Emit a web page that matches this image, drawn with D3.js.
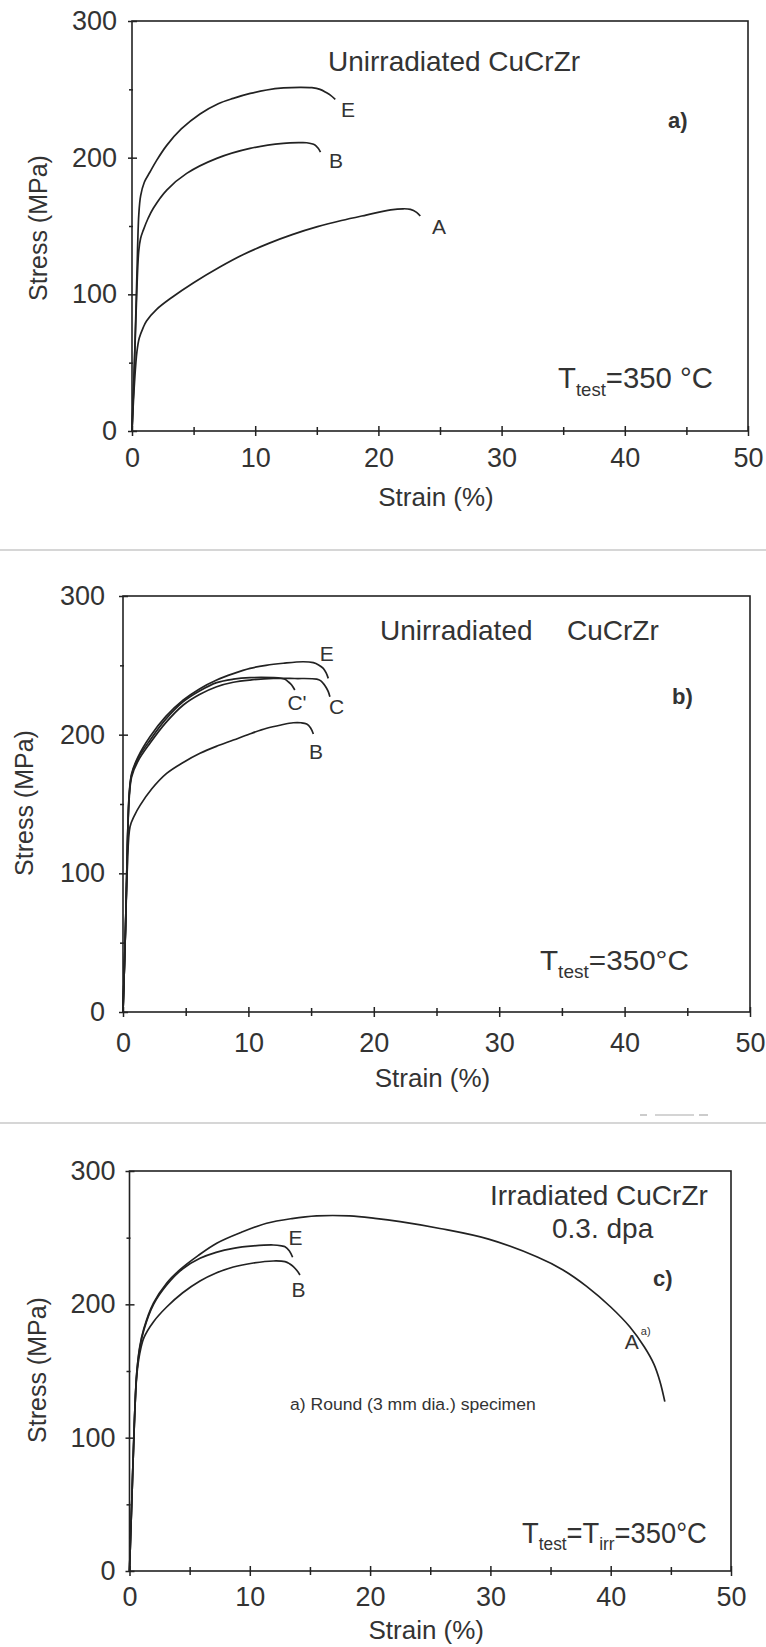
<!DOCTYPE html>
<html>
<head>
<meta charset="utf-8">
<script src="https://cdn.jsdelivr.net/npm/d3@7"></script>
<style>
  html, body { margin: 0; padding: 0; background: #fff; }
  svg { display: block; }
  text { font-family: "Liberation Sans", Arial, sans-serif; fill: #333; }
</style>
</head>
<body>
<svg id="fig" width="766" height="1647"></svg>
<script>
// ---- axis ticks ----
const xMajorTicks = [0, 10, 20, 30, 40, 50];
const xMinorTicks = [5, 15, 25, 35, 45];
const yMajorTicks = [0, 100, 200, 300];
const yMinorTicks = [50, 150, 250];

// ---- stress–strain curves: [strain %, stress MPa] ----
// a) unirradiated CuCrZr, 350 °C
const aE = [[0,0],[0.2,50],[0.4,115],[0.55,158],[0.7,172],[1.0,182],[1.46,189.5],[2.0,198],[2.82,209],[4.0,221],[5.52,232],[7.0,239.5],[8.22,243.4],[9.6,247],[10.93,249.5],[12.3,251],[13.64,251.5],[14.6,251.2],[15.26,250],[15.8,247.5],[16.1,245.8],[16.5,242.7]];
const aB = [[0,0],[0.2,50],[0.4,105],[0.55,132],[0.7,141],[0.92,147],[1.3,155.5],[1.73,163],[2.82,176.3],[4.44,188.5],[6.88,199.5],[9.58,206.8],[12.28,210.5],[13.6,211],[14.18,210.9],[14.85,209.3],[15.1,207],[15.3,204]];
const aA = [[0,0],[0.2,35],[0.4,58],[0.59,68],[0.9,75.5],[1.18,80.5],[2.0,89],[3.2,97.5],[5,108.5],[7.13,120],[9,129],[11.1,137.3],[13,143.7],[15.06,149.5],[17,154],[19,158],[21,161.8],[22,162.6],[22.6,162.2],[23.1,160],[23.4,157.3]];

// b) unirradiated CuCrZr, 350 °C
const bE  = [[0,0],[0.2,60],[0.35,120],[0.5,158],[0.69,172],[1.2,184],[2.15,198.5],[3.4,213],[4.81,225],[6.1,233],[7.47,239.4],[8.8,244],[10.13,247.8],[11.4,250],[12.78,251.5],[14.38,252.6],[15.18,251.9],[15.6,250.3],[15.97,247.8],[16.2,244.5],[16.37,240.6]];
const bC  = [[0,0],[0.2,60],[0.35,120],[0.5,155],[0.69,169.7],[1.2,181],[2.15,193.8],[3.4,208.5],[4.81,221.4],[6.1,229],[7.47,234.6],[8.8,237.8],[10.13,239.4],[11.99,240.6],[13.7,240.5],[15.45,240.1],[15.75,239],[15.97,237],[16.2,234],[16.37,231],[16.5,227.4]];
const bCp = [[0,0],[0.2,60],[0.35,120],[0.5,157],[0.69,171],[1.2,183],[2.15,196],[3.4,211],[4.81,223.8],[6.1,231.5],[7.47,237.5],[8.8,240],[10.13,241.1],[11.99,241.1],[12.6,240.7],[12.92,239.9],[13.2,238],[13.45,235.8],[13.7,232.2]];
const bB  = [[0,0],[0.2,60],[0.35,105],[0.56,133.6],[0.9,141.5],[1.36,149],[2.3,161],[3.48,172.1],[4.8,180],[6.14,186.6],[7.5,191.8],[8.8,196.1],[10.1,200.5],[11.46,204.6],[12.6,207],[13.58,208.6],[14.2,208.6],[14.65,207.7],[14.95,205],[15.18,200.5]];

// c) irradiated CuCrZr, 0.3 dpa, Ttest = Tirr = 350 °C
const cA = [[0,0],[0.2,55],[0.4,110],[0.6,148],[0.85,168],[1.2,182],[2,201],[3.1,216],[4.2,226],[5.7,236.5],[7.25,245.8],[9.3,254],[11.4,260.8],[13.5,264.3],[15.56,266.3],[18.3,266.3],[20.4,264.5],[22.5,262],[25.8,256.9],[29.85,248.9],[33.9,235.5],[36,226],[38,213.5],[40,198],[41.6,183],[42.8,168],[43.6,155],[44.1,142],[44.5,127]];
const cE = [[0,0],[0.2,55],[0.4,110],[0.6,148],[0.85,167],[1.2,181],[2,200],[3.09,214.5],[4.4,226.5],[5.86,234.5],[7.2,239],[8.63,242],[10.3,243.8],[11.95,244.5],[12.65,243.8],[12.93,243.2],[13.28,240.2],[13.56,235.3]];
const cB = [[0,0],[0.2,55],[0.4,110],[0.6,146],[0.85,163],[1.2,175],[2,187],[3.09,198],[4.4,208.5],[5.86,217.5],[7.2,223.5],[8.63,228],[10.3,231],[11.95,232.5],[12.93,232],[13.3,230.5],[13.62,228.3],[13.9,225.5],[14.17,222]];

// ---- panel layout ----
const panels = [
  { left: 132, right: 748, bottom: 431, top: 21, xPad: 12, yPad: 11, titleX: 38, stressTitleY: 228, strainY: 497,
    curves: [ {data: aE, name: "E", dx: 12.7, dy: 9.7}, {data: aB, name: "B", dx: 15.5, dy: 7.8}, {data: aA, name: "A", dx: 18.7, dy: 10} ] },
  { left: 123, right: 750, bottom: 1012, top: 596, xPad: 16, yPad: 14, titleX: 24, stressTitleY: 803, strainY: 1078,
    curves: [ {data: bE, name: "E", dx: -1.6, dy: -25.4}, {data: bC, name: "C", dx: 6.8, dy: 9.8}, {data: bCp, name: "C'", dx: 2.2, dy: 12}, {data: bB, name: "B", dx: 2.6, dy: 17.7} ] },
  { left: 129.5, right: 731, bottom: 1571, top: 1171, xPad: 11, yPad: 10, titleX: 37, stressTitleY: 1370, strainY: 1630,
    curves: [ {data: cA, name: "A", dx: -33, dy: -60, sup: "a)"}, {data: cE, name: "E", dx: 2.9, dy: -19.8}, {data: cB, name: "B", dx: -1.5, dy: 14} ] }
];

const svg = d3.select("#fig");
const ink = "#222";

// page separators left over from the printed figure
svg.append("line").attr("x1", 0).attr("x2", 766).attr("y1", 550).attr("y2", 550)
  .attr("stroke", "#d6d6d6").attr("stroke-width", 2);
svg.append("line").attr("x1", 0).attr("x2", 766).attr("y1", 1123).attr("y2", 1123)
  .attr("stroke", "#d6d6d6").attr("stroke-width", 2);
[[640, 647], [655, 694], [699, 708]].forEach(([a, b]) =>
  svg.append("line").attr("x1", a).attr("x2", b).attr("y1", 1115).attr("y2", 1115)
    .attr("stroke", "#aaa").attr("stroke-width", 1.2));

panels.forEach(p => {
  const x = d3.scaleLinear().domain([0, 50]).range([p.left, p.right]);
  const y = d3.scaleLinear().domain([0, 300]).range([p.bottom, p.top]);
  const g = svg.append("g");

  // frame
  g.append("rect").attr("x", p.left).attr("y", p.top)
    .attr("width", p.right - p.left).attr("height", p.bottom - p.top)
    .attr("fill", "none").attr("stroke", ink).attr("stroke-width", 1.6);

  // bottom axis: major ticks with labels, minor ticks without
  const xAx = g.append("g").attr("transform", `translate(0,${p.bottom})`)
    .call(d3.axisBottom(x).tickValues(xMajorTicks).tickSizeInner(5).tickSizeOuter(0).tickPadding(p.xPad));
  const xMin = g.append("g").attr("transform", `translate(0,${p.bottom})`)
    .call(d3.axisBottom(x).tickValues(xMinorTicks).tickSizeInner(4).tickSizeOuter(0).tickFormat(""));
  xAx.selectAll(".tick line").attr("y1", -5);
  xMin.selectAll(".tick line").attr("y1", -4);

  // left axis
  const yAx = g.append("g").attr("transform", `translate(${p.left},0)`)
    .call(d3.axisLeft(y).tickValues(yMajorTicks).tickSizeInner(4).tickSizeOuter(0).tickPadding(p.yPad));
  const yMin = g.append("g").attr("transform", `translate(${p.left},0)`)
    .call(d3.axisLeft(y).tickValues(yMinorTicks).tickSizeInner(3).tickSizeOuter(0).tickFormat(""));
  yAx.selectAll(".tick line").attr("x1", 5);
  yMin.selectAll(".tick line").attr("x1", 1);

  [xAx, xMin, yAx, yMin].forEach(a => {
    a.select(".domain").remove();
    a.attr("font-family", null).attr("font-size", null).attr("color", ink);
    a.selectAll(".tick line").attr("stroke-width", 1.5);
    a.selectAll(".tick text").attr("font-size", 27).attr("fill", "#333");
  });

  // axis titles
  g.append("text").attr("x", p.titleX).attr("y", p.stressTitleY).attr("dy", "0.35em")
    .attr("text-anchor", "middle").attr("font-size", 25)
    .attr("transform", `rotate(-90,${p.titleX},${p.stressTitleY})`)
    .text("Stress (MPa)");
  g.append("text").attr("x", (p.left + p.right) / 2 - 4).attr("y", p.strainY).attr("dy", "0.35em")
    .attr("text-anchor", "middle").attr("font-size", 26)
    .text("Strain (%)");

  // curves
  const line = d3.line().x(d => x(d[0])).y(d => y(d[1])).curve(d3.curveCatmullRom.alpha(0.5));
  p.curves.forEach(c => {
    g.append("path").attr("d", line(c.data)).attr("fill", "none")
      .attr("stroke", ink).attr("stroke-width", 1.7).attr("stroke-linejoin", "round");
    const end = c.data[c.data.length - 1];
    const lx = x(end[0]) + c.dx, ly = y(end[1]) + c.dy;
    g.append("text").attr("x", lx).attr("y", ly).attr("dy", "0.36em")
      .attr("text-anchor", "middle").attr("font-size", 21).text(c.name);
    if (c.sup) {
      g.append("text").attr("x", lx + 9).attr("y", ly - 7).attr("font-size", 11).text(c.sup);
    }
  });
});

// text squeezed horizontally into a given width (narrow face of the original lettering)
function fitted(x, y, width, build) {
  const t = svg.append("text").attr("x", 0).attr("y", 0);
  build(t);
  const w = t.node().getComputedTextLength();
  t.attr("transform", `translate(${x},${y}) scale(${width / w},1)`);
  return t;
}
// label made of normal runs and subscript runs
function tempLabel(t, size, subSize, drop, parts) {
  t.attr("font-size", size);
  let level = 0;
  parts.forEach(([s, sub]) => {
    const target = sub ? drop : 0;
    t.append("tspan")
      .attr("font-size", sub ? subSize : size)
      .attr("dy", target - level)
      .text(s);
    level = target;
  });
}

// panel a annotations
svg.append("text").attr("x", 328).attr("y", 71).attr("font-size", 28).text("Unirradiated CuCrZr");
svg.append("text").attr("x", 668).attr("y", 128).attr("font-size", 22).attr("font-weight", "bold").text("a)");
fitted(558, 388, 155, t => tempLabel(t, 30, 19, 8, [["T"], ["test", true], ["=350 °C"]]));

// panel b annotations
svg.append("text").attr("x", 380).attr("y", 640).attr("font-size", 28).text("Unirradiated");
svg.append("text").attr("x", 567).attr("y", 640).attr("font-size", 28).text("CuCrZr");
svg.append("text").attr("x", 672).attr("y", 704).attr("font-size", 22).attr("font-weight", "bold").text("b)");
fitted(540, 970, 149, t => tempLabel(t, 28, 18, 8, [["T"], ["test", true], ["=350°C"]]));

// panel c annotations
svg.append("text").attr("x", 490).attr("y", 1205).attr("font-size", 28).text("Irradiated CuCrZr");
svg.append("text").attr("x", 552).attr("y", 1238).attr("font-size", 28).text("0.3. dpa");
svg.append("text").attr("x", 653).attr("y", 1286).attr("font-size", 22).attr("font-weight", "bold").text("c)");
fitted(290, 1410, 246, t => t.attr("font-size", 17).text("a) Round (3 mm dia.) specimen"));
fitted(522, 1543, 185, t => tempLabel(t, 30, 19, 7, [["T"], ["test", true], ["=T"], ["irr", true], ["=350°C"]]));
</script>
</body>
</html>
